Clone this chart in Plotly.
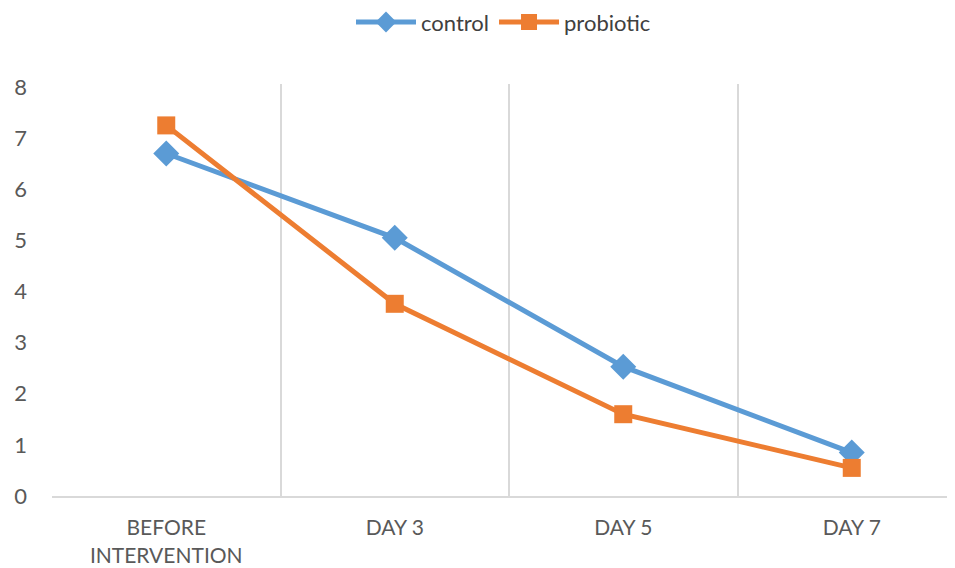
import plotly.graph_objects as go

categories = ["BEFORE<br>INTERVENTION", "DAY 3", "DAY 5", "DAY 7"]
control = [6.7, 5.05, 2.53, 0.85]
probiotic = [7.25, 3.76, 1.6, 0.55]
y_ticks = [0, 1, 2, 3, 4, 5, 6, 7, 8]

xs = list(range(len(categories)))
boundaries = [i - 0.5 for i in range(len(categories) + 1)]

fig = go.Figure()
fig.add_trace(go.Scatter(
    x=xs, y=control, name="control", mode="lines+markers",
    line=dict(color="#5B9BD5", width=5),
    marker=dict(symbol="diamond", size=20, color="#5B9BD5"),
))
fig.add_trace(go.Scatter(
    x=xs, y=probiotic, name="probiotic", mode="lines+markers",
    line=dict(color="#ED7D31", width=5),
    marker=dict(symbol="square", size=18, color="#ED7D31"),
))

fig.update_layout(
    width=947, height=560,
    margin=dict(l=44, r=0, t=76, b=72, autoexpand=False),
    paper_bgcolor="white", plot_bgcolor="white",
    font=dict(family="Lato, Open Sans, sans-serif", color="#595959"),
    showlegend=True,
    legend=dict(orientation="h", xref="paper", x=0.5, xanchor="center",
                y=1.15, yanchor="middle", font=dict(size=22, color="#404040"),
                itemwidth=60),
    xaxis=dict(
        range=[-0.5, -0.5 + (955 - 52) / 228.5],
        tickmode="array", tickvals=xs, ticktext=categories,
        showgrid=False, zeroline=False,
        showline=True, linecolor="#D9D9D9", linewidth=2,
        ticks="", ticklabelstandoff=12,
        tickfont=dict(size=21, color="#595959"),
        minor=dict(tickvals=boundaries, showgrid=True, gridcolor="#D9D9D9", gridwidth=2, ticks=""),
    ),
    yaxis=dict(
        range=[0, 8.06], tickmode="array", tickvals=y_ticks,
        showgrid=False, zeroline=False, showline=False, ticks="",
        ticklabelstandoff=24,
        tickfont=dict(size=22, color="#595959"),
    ),
)

fig.write_html("out.html")
